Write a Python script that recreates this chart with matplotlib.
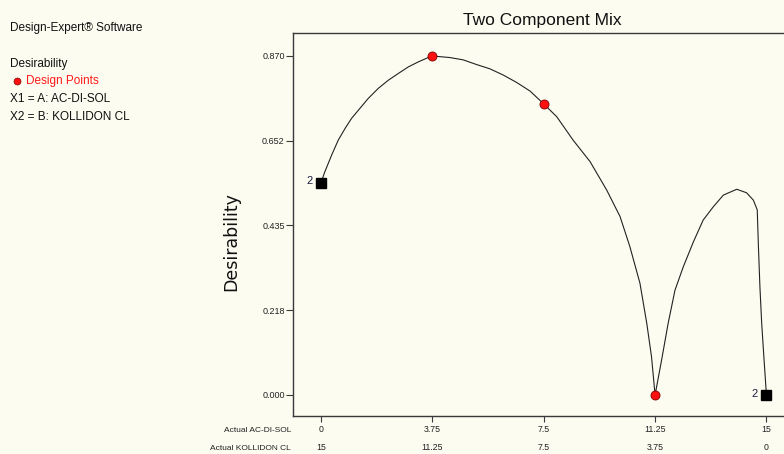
import matplotlib
matplotlib.use("Agg")
import matplotlib.pyplot as plt
from matplotlib import transforms

# ---- data ----
curve_x = [0.0, 0.13, 0.36, 0.58, 0.81, 1.03, 1.26, 1.59, 1.93, 2.27, 2.60, 2.94, 3.28,
           3.61, 3.75, 4.34, 4.79, 5.24, 5.69, 6.14, 6.59, 7.04, 7.5, 7.94, 8.49, 9.06,
           9.62, 10.07, 10.40, 10.74, 10.97, 11.13, 11.25, 11.47, 11.69, 11.92, 12.20,
           12.54, 12.87, 13.21, 13.55, 14.00, 14.33, 14.56, 14.69, 14.73, 14.78, 14.84,
           14.92, 15.0]
curve_y = [0.545, 0.573, 0.616, 0.654, 0.684, 0.710, 0.731, 0.761, 0.787, 0.808, 0.825,
           0.842, 0.855, 0.866, 0.870, 0.866, 0.860, 0.848, 0.837, 0.821, 0.802, 0.780,
           0.747, 0.714, 0.654, 0.599, 0.526, 0.458, 0.381, 0.287, 0.184, 0.098, 0.0,
           0.090, 0.184, 0.269, 0.329, 0.393, 0.449, 0.483, 0.513, 0.528, 0.519, 0.500,
           0.475, 0.381, 0.278, 0.184, 0.090, 0.0]
design_x = [3.75, 7.5, 11.25]
design_y = [0.870, 0.747, 0.0]
rep_x = [0.0, 15.0]
rep_y = [0.545, 0.0]
rep_labels = ["2", "2"]
ytick_vals = [0.000, 0.218, 0.435, 0.652, 0.870]
ytick_labels = ["0.000", "0.218", "0.435", "0.652", "0.870"]
xtick_vals = [0, 3.75, 7.5, 11.25, 15]
row1_labels = ["0", "3.75", "7.5", "11.25", "15"]
row2_labels = ["15", "11.25", "7.5", "3.75", "0"]

narrow = ["Liberation Sans Narrow", "Liberation Sans", "DejaVu Sans"]
arial = ["Liberation Sans", "DejaVu Sans"]

W, H = 784, 454
fig = plt.figure(figsize=(W / 100, H / 100), dpi=100)
fig.patch.set_facecolor("#fcfcf1")

left, right, top, bottom = 293, 800, 33, 416
ax = fig.add_axes([left / W, (H - bottom) / H, (right - left) / W, (bottom - top) / H])
ax.set_facecolor("none")
ax.set_xlim(-0.943, 16.13)
ax.set_ylim(-0.0539, 0.929)

for s in ["left", "top", "bottom"]:
    ax.spines[s].set_color("#3a3a3a")
    ax.spines[s].set_linewidth(1.0)
ax.spines["right"].set_visible(False)

ax.set_yticks(ytick_vals)
ax.set_yticklabels(ytick_labels, fontsize=6.5, family=narrow, color="#222222")
ax.tick_params(axis="y", length=5, width=0.8, color="#3a3a3a", pad=1)
ax.set_xticks(xtick_vals)
ax.set_xticklabels([])
ax.tick_params(axis="x", length=4, width=0.8, color="#3a3a3a")

ax.plot(curve_x, curve_y, color="#222222", lw=0.8, zorder=2, solid_joinstyle="round")

ax.plot(design_x, design_y, linestyle="none", marker="o", markersize=6.5,
        markerfacecolor="#ff1010", markeredgecolor="#800000", markeredgewidth=0.6, zorder=3)
ax.plot(rep_x, rep_y, linestyle="none", marker="s", markersize=7,
        color="black", zorder=3)
for xv, yv, lab in zip(rep_x, rep_y, rep_labels):
    ax.annotate(lab, (xv, yv), xytext=(-6, 1), textcoords="offset points",
                ha="right", va="center", fontsize=8, family=arial, color="#1a1a40")

trans = transforms.blended_transform_factory(ax.transData, fig.transFigure)
y1 = (H - 430) / H
y2 = (H - 448) / H
for xv, l1, l2 in zip(xtick_vals, row1_labels, row2_labels):
    ax.text(xv, y1, l1, transform=trans, ha="center", va="center", fontsize=6.3,
            family=narrow, color="#222222", clip_on=False)
    ax.text(xv, y2, l2, transform=trans, ha="center", va="center", fontsize=6.3,
            family=narrow, color="#222222", clip_on=False)
fig.text(291 / W, y1, "Actual AC-DI-SOL", ha="right", va="center", fontsize=6,
         family=narrow, color="#222222")
fig.text(291 / W, y2, "Actual KOLLIDON CL", ha="right", va="center", fontsize=6,
         family=narrow, color="#222222")

fig.text(231 / W, (H - 242) / H, "Desirability", rotation=90, ha="center", va="center",
         fontsize=12.5, family=["DejaVu Sans"], color="#111111")
fig.text(542 / W, (H - 21) / H, "Two Component Mix", ha="center", va="center",
         fontsize=12.5, family=narrow, color="#111111")

# left info block
fig.text(10 / W, (H - 28) / H, "Design-Expert® Software", ha="left", va="center",
         fontsize=8.5, family=narrow, color="#111111")
fig.text(10 / W, (H - 64) / H, "Desirability", ha="left", va="center",
         fontsize=8.5, family=narrow, color="#111111")
fig.lines.append(plt.Line2D([17 / W], [(H - 81) / H], transform=fig.transFigure,
                            marker="o", markersize=5, markerfacecolor="#ff1010",
                            markeredgecolor="#800000", markeredgewidth=0.5, linestyle="none"))
fig.text(26 / W, (H - 81) / H, "Design Points", ha="left", va="center",
         fontsize=8.5, family=narrow, color="#ff1a1a")
fig.text(10 / W, (H - 99) / H, "X1 = A: AC-DI-SOL", ha="left", va="center",
         fontsize=8.5, family=narrow, color="#111111")
fig.text(10 / W, (H - 117) / H, "X2 = B: KOLLIDON CL", ha="left", va="center",
         fontsize=8.5, family=narrow, color="#111111")

fig.savefig("out.png", dpi=100, facecolor=fig.get_facecolor())
